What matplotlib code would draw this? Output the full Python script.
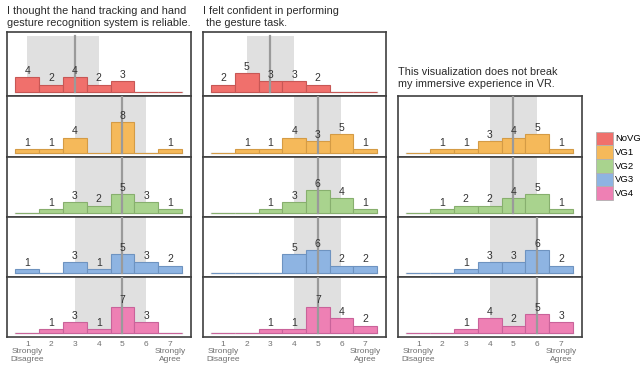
import matplotlib.pyplot as plt
from matplotlib.patches import Patch

plt.rcParams['font.family'] = ['Liberation Sans', 'DejaVu Sans']

groups = ['NoVG', 'VG1', 'VG2', 'VG3', 'VG4']
colors = ['#F0706C', '#F5B95A', '#A9D38E', '#8EB4E2', '#EE80B4']
edges = ['#C75755', '#D49B45', '#87AF6E', '#6E93C0', '#C9639A']
scale = [1, 2, 3, 4, 5, 6, 7]

# response counts for likert scores 1..7, one row per group
reliable = [[4, 2, 4, 2, 3, 0, 0],
            [1, 1, 4, 0, 8, 0, 1],
            [0, 1, 3, 2, 5, 3, 1],
            [1, 0, 3, 1, 5, 3, 2],
            [0, 1, 3, 1, 7, 3, 0]]
reliable_median = [3, 5, 5, 5, 5]
reliable_iqr = [(1, 4), (3, 6), (3, 6), (3, 6), (3, 6)]

confident = [[2, 5, 3, 3, 2, 0, 0],
             [0, 1, 1, 4, 3, 5, 1],
             [0, 0, 1, 3, 6, 4, 1],
             [0, 0, 0, 5, 6, 2, 2],
             [0, 0, 1, 1, 7, 4, 2]]
confident_median = [3, 5, 5, 5, 5]
confident_iqr = [(2, 4), (4, 6), (4, 6), (4, 6), (4, 6)]

# no NoVG answers for the immersion question
immersive = [None,
             [0, 1, 1, 3, 4, 5, 1],
             [0, 1, 2, 2, 4, 5, 1],
             [0, 0, 1, 3, 3, 6, 2],
             [0, 0, 1, 4, 2, 5, 3]]
immersive_median = [None, 5, 5, 6, 6]
immersive_iqr = [None, (4, 6), (4, 6), (4, 6), (4, 6)]

titles = ['I thought the hand tracking and hand\ngesture recognition system is reliable.',
          'I felt confident in performing\n the gesture task.',
          'This visualization does not break\nmy immersive experience in VR.']

W, H = 640, 366
fig = plt.figure(figsize=(W / 100, H / 100), dpi=100)

row_edges = [32, 96, 156.5, 217, 277, 337]
col_x = [(7, 191), (203, 386), (398, 582)]
px_per_unit = 3.8

def add_px_axes(x0, y0, x1, y1):
    return fig.add_axes([x0 / W, 1 - y1 / H, (x1 - x0) / W, (y1 - y0) / H])

questions = [(reliable, reliable_median, reliable_iqr),
             (confident, confident_median, confident_iqr),
             (immersive, immersive_median, immersive_iqr)]

for c, (counts, medians, iqrs) in enumerate(questions):
    x0, x1 = col_x[c]
    for r in range(5):
        if counts[r] is None:
            continue
        y0, y1 = row_edges[r], row_edges[r + 1]
        ax = add_px_axes(x0, y0, x1, y1)
        ax.set_xlim(0.15, 7.88)
        ax.set_ylim(-1, -1 + (y1 - y0) / px_per_unit)
        top = 14.9
        lo, hi = iqrs[r]
        ax.fill_between([lo, hi], 0, top, color='#E0E0E0', lw=0, zorder=0)
        ax.plot([0.5, 7.5], [0, 0], color='#D0D0D0', lw=1, zorder=1)
        ax.bar(scale, counts[r], width=1, color=colors[r], edgecolor=edges[r],
               linewidth=0.8, zorder=2)
        ax.plot([medians[r], medians[r]], [0, top], color='#9A9A9A', lw=1.6, zorder=3)
        for s, n in zip(scale, counts[r]):
            if n > 0:
                ax.text(s, n + 0.3, str(n), ha='center', va='bottom',
                        fontsize=7.5, color='#333333', zorder=4)
        for sp in ax.spines.values():
            sp.set_color('#404040')
            sp.set_linewidth(1.2)
        ax.set_yticks([])
        if r == 4:
            ax.set_xticks(scale)
            ax.set_xticklabels(['1\nStrongly\nDisagree', '2', '3', '4', '5', '6',
                                '7\nStrongly\nAgree'], linespacing=1.05)
            ax.tick_params(axis='x', length=0, pad=3, labelsize=6, labelcolor='#707070')
        else:
            ax.set_xticks([])

fig.text(7 / W, 1 - 6 / H, titles[0], va='top', fontsize=7.8, color='#2A2A2A')
fig.text(203 / W, 1 - 6 / H, titles[1], va='top', fontsize=7.8, color='#2A2A2A')
fig.text(398 / W, 1 - 67 / H, titles[2], va='top', fontsize=7.8, color='#2A2A2A')

handles = [Patch(facecolor=colors[i], edgecolor='#B0B0B0', linewidth=0.6) for i in range(5)]
fig.legend(handles, groups, loc='upper left', bbox_to_anchor=(595.5 / W, 1 - 131.5 / H),
           frameon=False, fontsize=6.8, handlelength=1.85, handleheight=1.85,
           handletextpad=0.25, labelspacing=0, borderpad=0, borderaxespad=0)

fig.savefig('out.png', dpi=100)
